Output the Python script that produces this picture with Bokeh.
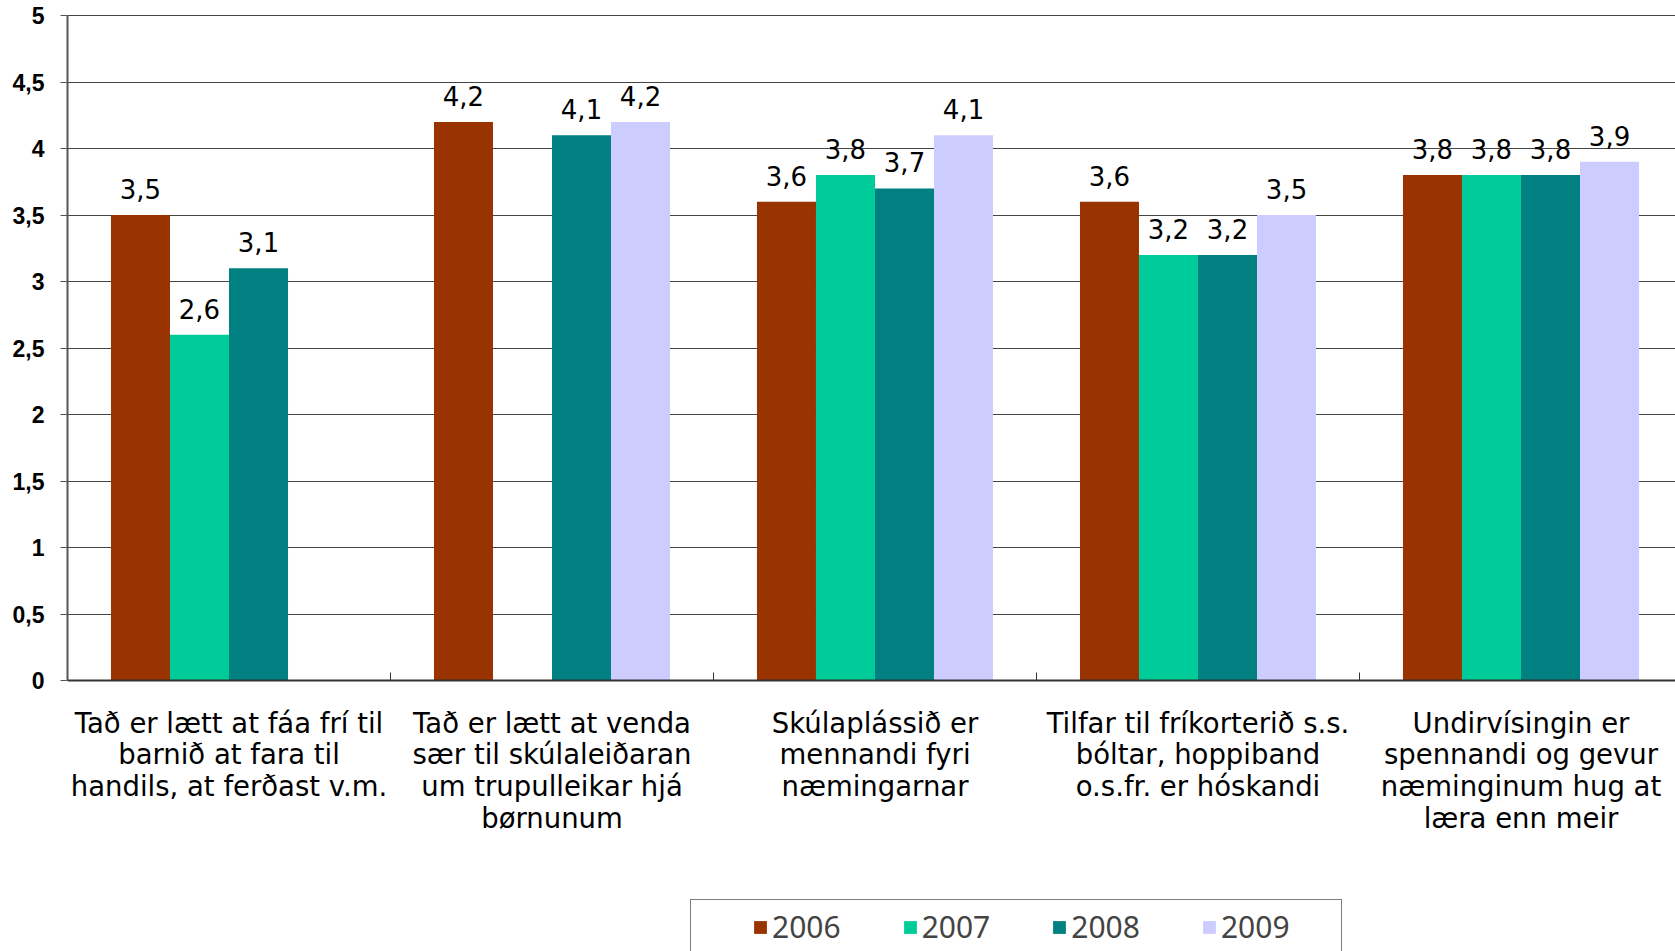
from bokeh.plotting import figure
from bokeh.models import (ColumnDataSource, Range1d, FixedTicker, LabelSet, Legend, LegendItem)
from bokeh.core.properties import value
from bokeh.embed import file_html
from bokeh.resources import INLINE

categories = [
    "Tað er lætt at fáa frí til\nbarnið at fara til\nhandils, at ferðast v.m.",
    "Tað er lætt at venda\nsær til skúlaleiðaran\num trupulleikar hjá\nbørnunum",
    "Skúlaplássið er\nmennandi fyri\nnæmingarnar",
    "Tilfar til fríkorterið s.s.\nbóltar, hoppiband\no.s.fr. er hóskandi",
    "Undirvísingin er\nspennandi og gevur\nnæminginum hug at\nlæra enn meir",
]
years = ["2006", "2007", "2008", "2009"]
v2006 = [3.5, 4.2, 3.6, 3.6, 3.8]
v2007 = [2.6, None, 3.8, 3.2, 3.8]
v2008 = [3.1, 4.1, 3.7, 3.2, 3.8]
v2009 = [None, 4.2, 4.1, 3.5, 3.9]
series = [v2006, v2007, v2008, v2009]
colors = ["#993300", "#00CC99", "#008080", "#CCCCFF"]
y_ticks = [0, 0.5, 1, 1.5, 2, 2.5, 3, 3.5, 4, 4.5, 5]

W, H = 1675, 951
LEFT = 67
PXU = 133.0  # pixels per unit on y
p = figure(width=W, height=H, output_backend="svg", toolbar_location=None,
           x_range=Range1d(0, (W - LEFT) / 323), y_range=Range1d(-271 / PXU, 5 + 15 / PXU),
           min_border_left=LEFT, min_border_right=0, min_border_top=0, min_border_bottom=0)
p.outline_line_color = None
p.background_fill_color = "white"

bw = 0.1827
renderers = []
for j, (yr, vals, col) in enumerate(zip(years, series, colors)):
    xs, tops, labs = [], [], []
    for i, v in enumerate(vals):
        if v is None:
            continue
        xs.append(i + 0.5 + (j - 1.5) * bw)
        tops.append(v)
        labs.append(("%.1f" % v).replace(".", ","))
    src = ColumnDataSource(dict(x=xs, top=tops, lab=labs))
    r = p.vbar(x="x", top="top", width=bw, bottom=0, source=src, fill_color=col, line_color=None)
    renderers.append(r)
    p.add_layout(LabelSet(x="x", y="top", text="lab", source=src, text_align="center",
                          text_baseline="alphabetic", y_offset=16,
                          text_font=value("DejaVu Sans"), text_font_size=value("26px"),
                          text_color="black"))

# y axis
ya = p.yaxis[0]
ya.bounds = (0, 5)
ya.ticker = FixedTicker(ticks=y_ticks)
ya.major_label_overrides = {t: (str(int(t)) if float(t).is_integer() else str(t)).replace(".", ",") for t in y_ticks}
ya.major_label_text_font = "Liberation Sans"
ya.major_label_text_font_style = "bold"
ya.major_label_text_font_size = "23px"
ya.major_label_text_color = "black"
ya.major_label_standoff = 16
ya.major_tick_out = 7
ya.major_tick_in = 0
ya.minor_tick_out = 0
ya.minor_tick_in = 0
ya.axis_line_color = "#555555"
ya.axis_line_width = 2
ya.major_tick_line_color = "#555555"

# x axis (fixed at y = 0 inside the frame)
xa = p.xaxis[0]
xa.fixed_location = 0
centers = [i + 0.5 for i in range(len(categories))]
bounds = [i + 1 for i in range(len(categories) - 1)]
xa.ticker = FixedTicker(ticks=centers, minor_ticks=bounds)
xa.major_label_overrides = {c: lab for c, lab in zip(centers, categories)}
xa.major_label_text_font = "DejaVu Sans"
xa.major_label_text_font_size = "27.5px"
xa.major_label_text_line_height = 0.99
xa.major_label_text_color = "black"
xa.major_label_text_align = "center"
xa.major_label_standoff = 26
xa.major_tick_in = 0
xa.major_tick_out = 0
xa.minor_tick_in = 8
xa.minor_tick_out = 0
xa.minor_tick_line_color = "#333333"
xa.axis_line_color = "#333333"
xa.axis_line_width = 2

p.xgrid.grid_line_color = None
p.ygrid.ticker = FixedTicker(ticks=y_ticks)
p.ygrid.grid_line_color = "#444444"
p.ygrid.grid_line_width = 1

legend = Legend(items=[LegendItem(label=y, renderers=[r]) for y, r in zip(years, renderers)],
                orientation="horizontal")
legend.glyph_width = 16
legend.glyph_height = 16
legend.label_standoff = 4
legend.spacing = 61
legend.margin = 0
try:
    legend.padding = (61, 51, 6, 14)
    legend.location = (623, -11)
except Exception:
    legend.padding = 10
    legend.location = (671, -11)
legend.border_line_color = "black"
legend.border_line_width = 1
legend.label_text_font = "Noto Sans"
legend.label_text_font_size = "30px"
p.add_layout(legend, "center")

open("out.html", "w").write(file_html(p, INLINE))
